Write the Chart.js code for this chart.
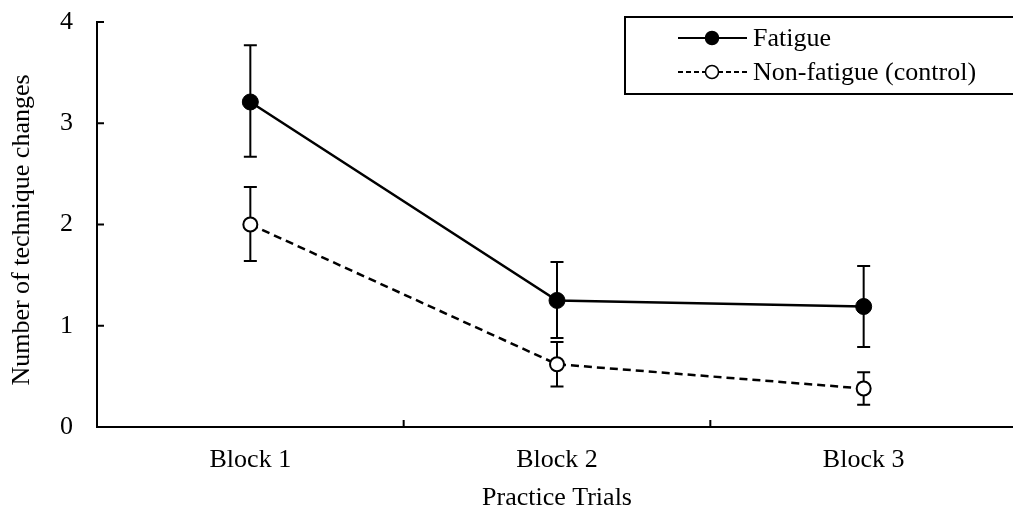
<!DOCTYPE html>
<html>
<head>
<meta charset="utf-8">
<script src="https://cdn.jsdelivr.net/npm/chart.js@4"></script>
<style>
  html, body { margin: 0; padding: 0; background: #fff; overflow: hidden; }
  #wrap { width: 1013px; height: 509px; overflow: hidden; position: relative; }
  canvas { display: block; }
</style>
</head>
<body>
<div id="wrap"><canvas id="kaavio" width="1026" height="509"></canvas></div>
<script>
// Kategoriat ja arvot luettu kuvasta
const blocks = ['Block 1', 'Block 2', 'Block 3'];
const fatigue = [3.21, 1.25, 1.19];
const fatigueLow = [2.67, 0.88, 0.79];
const fatigueHigh = [3.77, 1.63, 1.59];
const control = [2.00, 0.62, 0.38];
const controlLow = [1.64, 0.40, 0.22];
const controlHigh = [2.37, 0.84, 0.54];
const yTicks = [0, 1, 2, 3, 4];

const fontti = 'Liberation Serif, "Times New Roman", serif';

// Virhepalkit piirretään ennen viivoja, jotta pisteet jäävät päälle
const virhepalkit = {
  id: 'virhepalkit',
  beforeDatasetsDraw(chart) {
    const ctx = chart.ctx;
    const x = chart.scales.x, y = chart.scales.y;
    const sarjat = [[fatigueLow, fatigueHigh], [controlLow, controlHigh]];
    ctx.save();
    ctx.strokeStyle = '#000';
    ctx.lineWidth = 2;
    sarjat.forEach(function (s) {
      for (let i = 0; i < blocks.length; i++) {
        const px = x.getPixelForValue(i);
        const ala = y.getPixelForValue(s[0][i]);
        const yla = y.getPixelForValue(s[1][i]);
        ctx.beginPath();
        ctx.moveTo(px, ala); ctx.lineTo(px, yla);
        ctx.moveTo(px - 6.5, ala); ctx.lineTo(px + 6.5, ala);
        ctx.moveTo(px - 6.5, yla); ctx.lineTo(px + 6.5, yla);
        ctx.stroke();
      }
    });
    ctx.restore();
  }
};

// Akselien sisäänpäin osoittavat merkit, y-akselin otsikko ja selite
const koristeet = {
  id: 'koristeet',
  afterDraw(chart) {
    const ctx = chart.ctx;
    const x = chart.scales.x, y = chart.scales.y;
    const ala = chart.chartArea;
    ctx.save();
    ctx.strokeStyle = '#000';
    ctx.lineWidth = 2;
    ctx.beginPath();
    yTicks.forEach(function (v) {
      const py = y.getPixelForValue(v);
      ctx.moveTo(ala.left, py); ctx.lineTo(ala.left + 7, py);
    });
    for (let i = 0; i < blocks.length - 1; i++) {
      const px = (x.getPixelForValue(i) + x.getPixelForValue(i + 1)) / 2;
      ctx.moveTo(px, ala.bottom); ctx.lineTo(px, ala.bottom - 7);
    }
    ctx.stroke();

    // Y-akselin otsikko hieman keskikohdan alapuolella kuten alkuperäisessä
    ctx.font = '26px ' + fontti;
    ctx.fillStyle = '#000';
    ctx.textAlign = 'center';
    ctx.textBaseline = 'middle';
    ctx.save();
    ctx.translate(22, 230);
    ctx.rotate(-Math.PI / 2);
    ctx.fillText('Number of technique changes', 0, 0);
    ctx.restore();

    // Selite
    ctx.lineWidth = 2;
    ctx.strokeRect(625, 17, 420, 77);
    ctx.textAlign = 'left';
    const rivit = [
      { y: 38, teksti: 'Fatigue', dash: [], tayte: '#000' },
      { y: 72, teksti: 'Non-fatigue (control)', dash: [5, 3], tayte: '#fff' }
    ];
    rivit.forEach(function (r) {
      ctx.setLineDash(r.dash);
      ctx.lineWidth = 2;
      ctx.beginPath();
      ctx.moveTo(678, r.y); ctx.lineTo(747, r.y);
      ctx.stroke();
      ctx.setLineDash([]);
      ctx.beginPath();
      ctx.arc(712, r.y, 6.5, 0, Math.PI * 2);
      ctx.fillStyle = r.tayte;
      ctx.fill();
      ctx.lineWidth = 1.5;
      ctx.stroke();
      ctx.fillStyle = '#000';
      ctx.fillText(r.teksti, 753, r.y + 1);
    });
    ctx.restore();
  }
};

const ctx = document.querySelector('#kaavio').getContext('2d');
new Chart(ctx, {
  type: 'line',
  data: {
    labels: blocks,
    datasets: [{
      label: 'Fatigue',
      data: fatigue,
      borderColor: '#000',
      borderWidth: 2.5,
      pointRadius: 8,
      pointBackgroundColor: '#000',
      pointBorderColor: '#000',
      pointBorderWidth: 1,
      tension: 0
    }, {
      label: 'Non-fatigue (control)',
      data: control,
      borderColor: '#000',
      borderWidth: 2.5,
      borderDash: [8, 5],
      pointRadius: 7,
      pointBackgroundColor: '#fff',
      pointBorderColor: '#000',
      pointBorderWidth: 2,
      tension: 0
    }]
  },
  options: {
    responsive: false,
    animation: false,
    layout: { padding: { top: 22, right: 4, left: 0, bottom: 0 } },
    plugins: { legend: { display: false }, tooltip: { enabled: false } },
    scales: {
      x: {
        type: 'category',
        offset: true,
        grid: { display: false, offset: true },
        border: { display: true, color: '#000', width: 2 },
        ticks: { color: '#000', font: { family: fontti, size: 26 }, padding: 10, maxRotation: 0 },
        title: { display: true, text: 'Practice Trials', color: '#000',
                 font: { family: fontti, size: 26, lineHeight: 0.8 }, padding: { top: 0, bottom: 0 } },
        afterFit(scale) { scale.height = 82; scale.paddingLeft = 0; scale.paddingRight = 0; }
      },
      y: {
        min: 0, max: 4,
        afterBuildTicks(scale) { scale.ticks = yTicks.map(function (v) { return { value: v }; }); },
        grid: { display: false },
        border: { display: true, color: '#000', width: 2 },
        ticks: { color: '#000', font: { family: fontti, size: 26 }, padding: 16 },
        title: { display: false },
        afterFit(scale) { scale.width = 97; scale.paddingTop = 0; scale.paddingBottom = 0; }
      }
    }
  },
  plugins: [virhepalkit, koristeet]
});
</script>
</body>
</html>
